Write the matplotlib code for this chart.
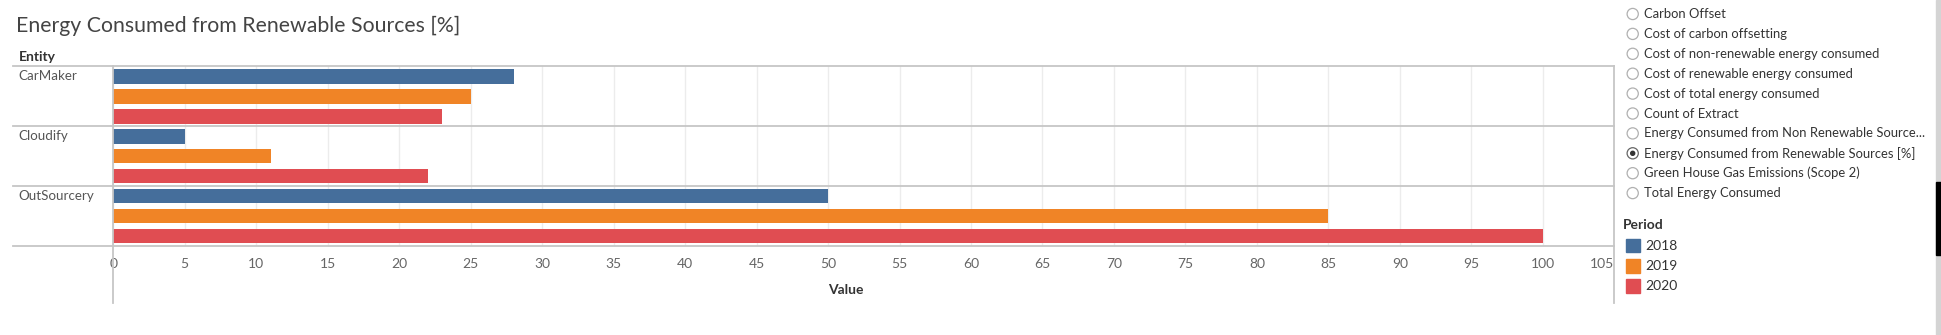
import matplotlib
matplotlib.use("Agg")
import matplotlib.pyplot as plt
import matplotlib.patches as patches
import numpy as np

plt.rcParams['font.family'] = ['Lato', 'DejaVu Sans']

# data
entities = ['CarMaker', 'Cloudify', 'OutSourcery']
periods = ['2018', '2019', '2020']
values_2018 = [28, 5, 50]
values_2019 = [25, 11, 85]
values_2020 = [23, 22, 100]
period_colors = ['#456e9b', '#f08426', '#e04d52']
measures = ['Carbon Offset', 'Cost of carbon offsetting',
            'Cost of non-renewable energy consumed',
            'Cost of renewable energy consumed',
            'Cost of total energy consumed', 'Count of Extract',
            'Energy Consumed from Non Renewable Source...',
            'Energy Consumed from Renewable Sources [%]',
            'Green House Gas Emissions (Scope 2)',
            'Total Energy Consumed']
selected = 'Energy Consumed from Renewable Sources [%]'
xticks = list(range(0, 106, 5))

W, H = 1941, 335
fig = plt.figure(figsize=(W / 100, H / 100), dpi=100)

# pixel layout of the plot area
px_l, px_r, px_t, px_b = 113.3, 1614.3, 66.3, 246.0
ax = fig.add_axes([px_l / W, 1 - px_b / H, (px_r - px_l) / W, (px_b - px_t) / H])

series = [values_2018, values_2019, values_2020]
n = len(periods)
for j, vals in enumerate(series):
    ypos = np.arange(len(entities)) * n + j
    ax.barh(ypos, vals, height=0.735, color=period_colors[j], zorder=3)

ax.set_xlim(0, 105)
ax.set_ylim(len(entities) * n - 0.5, -0.5)
ax.set_yticks([])
ax.set_xticks(xticks)
ax.set_xticklabels([str(t) for t in xticks])
ax.tick_params(axis='x', length=0, pad=9, labelsize=10, labelcolor='#666666')
ax.get_xticklabels()[-1].set_ha('right')
ax.grid(axis='x', color='#ececec', linewidth=1, zorder=0)
for s in ax.spines.values():
    s.set_visible(False)

# row separators, extending left into the label column
ytr = ax.get_yaxis_transform()
x_left = (12.7 - px_l) / (px_r - px_l)
for k in range(len(entities) + 1):
    ax.plot([x_left, 1], [k * n - 0.5] * 2, color='#c6c6c6', lw=1.3,
            transform=ytr, clip_on=False, zorder=4)

# zero line and right border, running down past the axis
y_low = (px_b - 303) / (px_b - px_t)
for xa in (0, 1):
    ax.plot([xa, xa], [1, y_low], color='#c6c6c6', lw=1.3,
            transform=ax.transAxes, clip_on=False, zorder=4)

for i, name in enumerate(entities):
    ax.text(x_left + 0.004, i * n, name, transform=ytr, ha='left', va='center',
            fontsize=9.6, color='#555555', clip_on=False)

# overlay in pixel coordinates for the surrounding text
ov = fig.add_axes([0, 0, 1, 1], zorder=-1)
ov.set_xlim(0, W)
ov.set_ylim(H, 0)
ov.axis('off')

ov.text(16, 31.7, 'Energy Consumed from Renewable Sources [%]', fontsize=15.3,
        color='#444444', ha='left', va='baseline')
ov.text(19.3, 57.3, 'Entity', fontsize=10, fontweight='bold', color='#333333',
        ha='left', va='center')
ov.text(846, 290, 'Value', fontsize=10, fontweight='bold',
        color='#333333', ha='center', va='center')

for k, m in enumerate(measures):
    yy = 14 + 19.9 * k
    on = m == selected
    ov.add_patch(patches.Circle((1632.7, yy), 5.6, fill=False,
                                edgecolor='#666666' if on else '#b0b0b0', lw=0.9))
    if on:
        ov.add_patch(patches.Circle((1632.7, yy), 2.0, color='#333333'))
    ov.text(1644.3, yy, m, fontsize=9.4, color='#333333', ha='left', va='center')

ov.text(1623, 225, 'Period', fontsize=10, fontweight='bold', color='#333333',
        ha='left', va='center')
for j, p in enumerate(periods):
    yy = 245.7 + 20 * j
    ov.add_patch(patches.Rectangle((1626, yy - 6.8), 14, 13.6,
                                   color=period_colors[j]))
    ov.text(1645.7, yy, p, fontsize=10, color='#333333', ha='left', va='center')

# window edge strip at the far right
ov.add_patch(patches.Rectangle((1936, 0), 5, H, color='#d4d4d4'))
ov.add_patch(patches.Rectangle((1936, 182), 5, 73, color='#000000'))

fig.savefig('out.png', dpi=100)
